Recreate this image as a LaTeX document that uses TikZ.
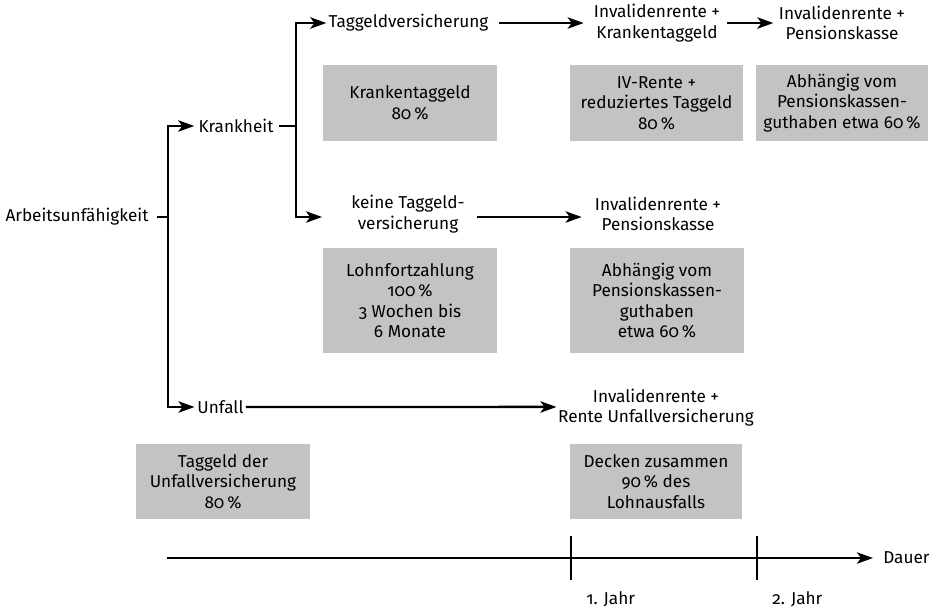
\documentclass[tikz,border=0pt]{standalone}
\usepackage{fontspec}
\setmainfont{Fira Sans}[Numbers=OldStyle]
\usetikzlibrary{arrows.meta}
\definecolor{boxgray}{RGB}{195,195,195}
\begin{document}
\begin{tikzpicture}[x=0.75pt,y=-0.75pt,
  every node/.style={font=\fontsize{12.9}{15.4}\selectfont, align=center, inner sep=0pt},
  ln/.style={line width=1.85pt},
  arr/.style={ln, -{Stealth[length=12pt,width=8.5pt,inset=3pt]}},
  gbox/.style={fill=boxgray, minimum width=#1},
  gbox/.default=130.5pt,
  h1/.style={minimum height=57pt},
  h2/.style={minimum height=78.75pt},
  h3/.style={minimum height=56.25pt}]
\useasboundingbox (0,0) rectangle (935,608);
% labels
\node (arb) at (77,217) {Arbeitsunfähigkeit};
\node (krank) at (236,126) {Krankheit};
\node (unf) at (220.5,407) {Unfall};
\node (tag) at (408.5,23) {Taggeldversicherung};
\node (ik) at (657,23) {Invalidenrente +\\Krankentaggeld};
\node (ip1) at (842,23) {Invalidenrente +\\Pensionskasse};
\node (keine) at (408,214) {keine Taggeld-\\versicherung};
\node (ip2) at (658,214) {Invalidenrente +\\Pensionskasse};
\node (iu) at (656,407.5) {Invalidenrente +\\Rente Unfallversicherung};
% boxes
\node[gbox,h1] (b1) at (410,103) {Krankentaggeld\\80\,\%};
\node[gbox=129.75pt,h1] (b2) at (656.5,103) {IV-Rente +\\reduziertes Taggeld\\80\,\%};
\node[gbox=129pt,h1] (b3) at (842,103) {Abhängig vom\\Pensionskassen-\\guthaben etwa 60\,\%};
\node[gbox,h2] (b4) at (410,300.5) {Lohnfortzahlung\\100\,\%\\3 Wochen bis\\6 Monate};
\node[gbox,h2] (b5) at (657,300.5) {Abhängig vom\\Pensionskassen-\\guthaben\\etwa 60\,\%};
\node[gbox,h3] (b6) at (223,481.5) {Taggeld der\\Unfallversicherung\\80\,\%};
\node[gbox=129pt,h3] (b7) at (656,481.5) {Decken zusammen\\90\,\% des\\Lohnausfalls};
% junctions
\coordinate (j0) at (168,217);
\coordinate (j1) at (296,126);
% connectors
\draw[ln] ([xshift=6pt]arb.east) -- (j0);
\draw[arr] (j0) |- ([xshift=-3pt]krank.west);
\draw[arr] (j0) |- ([xshift=-2pt]unf.west);
\draw[ln] ([xshift=4pt]krank.east) -- (j1);
\draw[arr] (j1) |- ([xshift=-1.5pt]tag.west);
\draw[arr] (j1) |- ([xshift=-21.75pt,yshift=-2.25pt]keine.west);
\draw[arr] ([xshift=7.5pt]tag.east) -- ([xshift=-7.5pt]ik.west);
\draw[arr] ([xshift=5pt]ik.east) -- ([xshift=-4pt]ip1.west);
\draw[arr] ([xshift=9pt,yshift=-2.25pt]keine.east) -- ([xshift=-9.75pt,yshift=-2.25pt]ip2.west);
\draw[arr] ([xshift=1.5pt]unf.east) -- ([xshift=-1pt,yshift=0.4pt]iu.west);
% time axis
\coordinate (ax0) at (167,558);
\node[anchor=west] (dauer) at (883,558) {Dauer};
\draw[arr] (ax0) -- ([xshift=-7.5pt]dauer.west);
\draw[ln] (571,536) -- (571,580);
\draw[ln] (757,536) -- (757,580);
\node[anchor=west] (y1) at (586,599) {1. Jahr};
\node[anchor=west] (y2) at (772,599) {2. Jahr};
\end{tikzpicture}
\end{document}
